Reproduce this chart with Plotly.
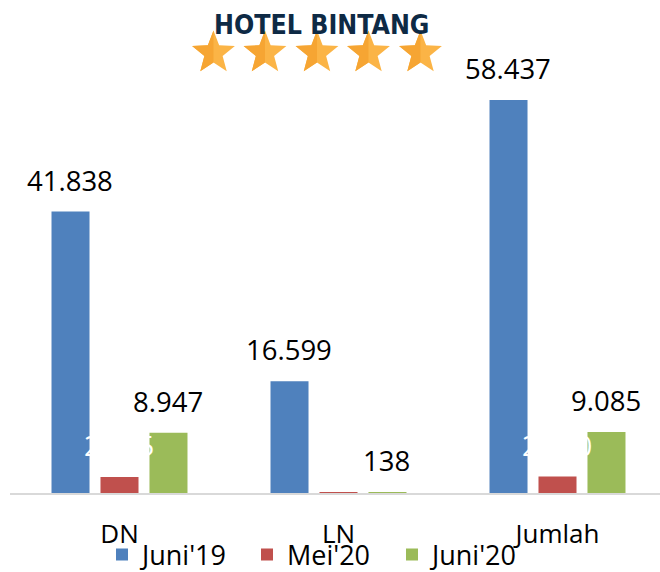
import math
import plotly.graph_objects as go

categories = ["DN", "LN", "Jumlah"]
series_names = ["Juni'19", "Mei'20", "Juni'20"]
juni19 = [41838, 16599, 58437]
mei20 = [2395, 45, 2440]
juni20 = [8947, 138, 9085]
series_values = [juni19, mei20, juni20]
colors = ["#4F81BD", "#C0504D", "#9BBB59"]
label_colors = ["#000000", "#FFFFFF", "#000000"]

W, H = 660, 572
ML, MR, MT, MB = 10, 0, 80, 79
plot_h = H - MT - MB
plot_w = W - ML - MR
x_hi = -0.5 + plot_w / 219.0
y_max = 61400

def fmt(v):
    return f"{v:,}".replace(",", ".")

def px_x(px):
    return (px - ML) / plot_w

def px_y(py):
    return (H - MB - py) / plot_h

fig = go.Figure()
for name, vals, col in zip(series_names, series_values, colors):
    fig.add_trace(go.Bar(name=name, x=categories, y=vals, marker=dict(color=col, line=dict(width=0))))

annotations = []
offsets = [-49, 0, 49]
for vals, lc, off in zip(series_values, label_colors, offsets):
    for c, v in zip(categories, vals):
        annotations.append(dict(x=c, y=v, xref="x", yref="y", text=fmt(v), showarrow=False,
                                xanchor="center", yanchor="bottom", xshift=off - 1, yshift=11,
                                font=dict(family="Open Sans", size=27.5, color=lc)))

annotations.append(dict(x=px_x(321), y=px_y(25), xref="paper", yref="paper", text="HOTEL BINTANG",
                        showarrow=False, xanchor="center", yanchor="middle",
                        font=dict(family="Liberation Sans Narrow, DejaVu Sans Condensed", size=26.5,
                                  color="#0E2A45", weight="bold")))

# decorative stars (rating ornament under the title)
shapes = []
R, r_in = 22.5, 9.6
cy = 53
for sx in [213.5, 265, 317, 368.5, 420.5]:
    pts = []
    for k in range(10):
        ang = math.radians(-90 + 36 * k)
        rad = R if k % 2 == 0 else r_in
        pts.append((sx + rad * math.cos(ang), cy + rad * math.sin(ang)))
    full = "M " + " L ".join(f"{px_x(x):.5f},{px_y(y):.5f}" for x, y in pts) + " Z"
    shapes.append(dict(type="path", xref="paper", yref="paper", path=full,
                       fillcolor="#FBB446", line=dict(width=0), layer="above"))
    left = [pts[0], pts[9], pts[8], pts[7], pts[6], pts[5], (sx, cy + r_in * 0.2)]
    lp = "M " + " L ".join(f"{px_x(x):.5f},{px_y(y):.5f}" for x, y in left) + " Z"
    shapes.append(dict(type="path", xref="paper", yref="paper", path=lp,
                       fillcolor="#F6A533", line=dict(width=0), layer="above"))

fig.update_layout(
    width=W, height=H,
    margin=dict(l=ML, r=MR, t=MT, b=MB, pad=0, autoexpand=False),
    paper_bgcolor="white", plot_bgcolor="white",
    barmode="group", bargap=0.329, bargroupgap=0.224,
    showlegend=True,
    legend=dict(orientation="h", x=px_x(102), xanchor="left", y=px_y(555), yanchor="middle",
                font=dict(family="Open Sans", size=27, color="#000000"),
                entrywidth=100, entrywidthmode="pixels",
                bgcolor="rgba(0,0,0,0)", traceorder="normal"),
    annotations=annotations,
    shapes=shapes,
    xaxis=dict(type="category", range=[-0.5, x_hi], showgrid=False, zeroline=False,
               showline=True, linecolor="#D9D9D9", linewidth=2, ticks="",
               ticklabelstandoff=17, automargin=False,
               tickfont=dict(family="Open Sans", size=26, color="#000000")),
    yaxis=dict(range=[0, y_max], visible=False, showgrid=False, automargin=False),
)

fig.write_html("out.html", config={"displayModeBar": False},
               post_script="document.body.style.margin='0px';")
